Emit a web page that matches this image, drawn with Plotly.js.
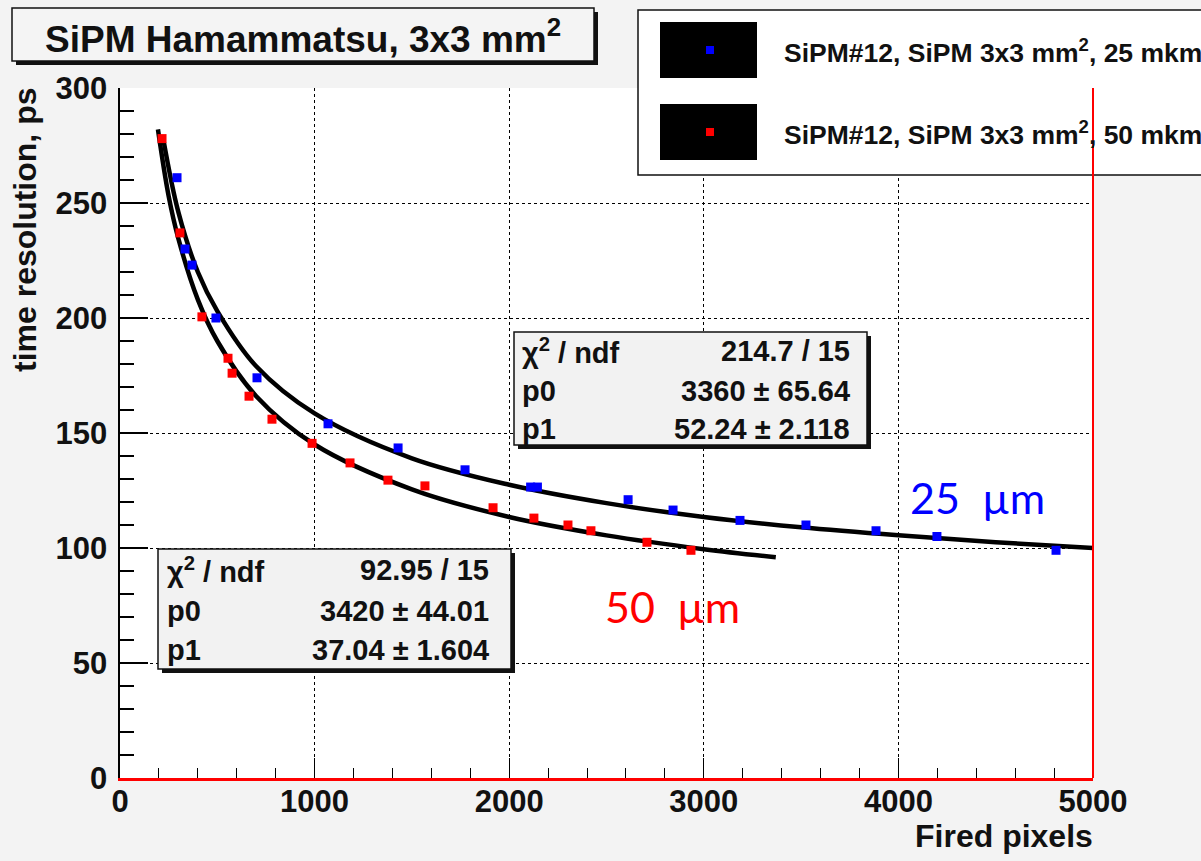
<!DOCTYPE html>
<html>
<head>
<meta charset="utf-8">
<script src="https://cdn.plot.ly/plotly-3.0.1.min.js"></script>
<style>html,body{margin:0;padding:0;background:#f3f3f3;}#chart{width:1201px;height:861px;}</style>
</head>
<body>
<div id="chart"></div>
<script>
// ---- data ----
const blueX = [293, 334, 370, 493, 704, 1069, 1429, 1773, 2110, 2145, 2611, 2842, 3186, 3525, 3885, 4198, 4810];
const blueY = [261, 230, 223, 200, 174, 154, 143.5, 134, 126.5, 126.5, 121, 116.5, 112, 110, 107.5, 105, 99];
const redX = [216, 308, 421, 555, 576, 663, 781, 987, 1182, 1377, 1567, 1917, 2127, 2302, 2420, 2708, 2934];
const redY = [278, 237, 200.5, 182.5, 176, 166, 156, 145.5, 137, 129.5, 127, 117.5, 113, 110, 107.5, 102.5, 99];
const fit25X = [222, 300, 400, 500, 700, 1000, 1500, 2000, 2500, 3000, 3500, 4000, 4500, 5000];
const fit25Y = [278, 246, 220, 203, 179, 158.5, 139, 127.5, 119.5, 113.5, 109, 105.5, 102.5, 100];
const fit50X = [195, 250, 300, 400, 500, 700, 1000, 1500, 2000, 2500, 3000, 3370];
const fit50Y = [282, 253, 234.5, 208, 190, 166, 145, 125.5, 113.5, 105.5, 99.5, 96];
const legendLabels = ["SiPM#12, SiPM 3x3 mm<sup>2</sup>, 25 mkm", "SiPM#12, SiPM 3x3 mm<sup>2</sup>, 50 mkm"];
const stats25 = [["χ<sup>2</sup> / ndf", "214.7 / 15"], ["p0", "3360 ± 65.64"], ["p1", "52.24 ± 2.118"]];
const stats50 = [["χ<sup>2</sup> / ndf", "92.95 / 15"], ["p0", "3420 ± 44.01"], ["p1", "37.04 ± 1.604"]];
const chartTitle = "SiPM Hamammatsu, 3x3 mm<sup>2</sup>";
const xTitle = "Fired pixels";
const yTitle = "time resolution, ps";

// ---- layout geometry (pixels -> paper) ----
const L = 120, R = 1093, T = 88, B = 778;
const px = x => (x - L) / (R - L);
const py = y => (B - y) / (B - T);
const FONT = "Liberation Sans, Arial, sans-serif";

const shapes = [];
const annotations = [];
function box(x0, y0, x1, y1, fill, shadow) {
  if (shadow) shapes.push({type: "rect", xref: "paper", yref: "paper", x0: px(x0 + 4), x1: px(x1 + 4), y0: py(y0 + 4), y1: py(y1 + 4), fillcolor: "#111", line: {width: 0}, layer: "above"});
  shapes.push({type: "rect", xref: "paper", yref: "paper", x0: px(x0), x1: px(x1), y0: py(y0), y1: py(y1), fillcolor: fill, line: {color: "#111", width: 1.5}, layer: "above"});
}
function text(x, y, t, opts) {
  annotations.push(Object.assign({xref: "paper", yref: "paper", x: px(x), y: py(y), text: t, showarrow: false,
    xanchor: "left", yanchor: "middle", font: {family: FONT, size: 29, color: "#111", weight: "bold"}}, opts || {}));
}

// title box
box(12, 8, 594, 61, "#f4f4f4", true);
text(303, 36, chartTitle, {xanchor: "center", font: {family: FONT, size: 37, color: "#111", weight: "bold"}});

// legend box
box(638, 10, 1215, 175, "#ffffff", false);
const legColors = ["#0000ff", "#ff0000"];
[[22, 78], [104, 160]].forEach((r, i) => {
  shapes.push({type: "rect", xref: "paper", yref: "paper", x0: px(660), x1: px(757), y0: py(r[0]), y1: py(r[1]), fillcolor: "#000", line: {width: 0}, layer: "above"});
  const cy = (r[0] + r[1]) / 2;
  shapes.push({type: "rect", xref: "paper", yref: "paper", x0: px(706), x1: px(714), y0: py(cy - 4), y1: py(cy + 4), fillcolor: legColors[i], line: {width: 0}, layer: "above"});
  text(782, cy + 1, legendLabels[i], {font: {family: FONT, size: 26.5, color: "#111", weight: "bold"}});
});

// stat boxes
function statBox(x0, y0, x1, y1, rows, rowY, lx, rx) {
  box(x0, y0, x1, y1, "#f2f2f2", true);
  rows.forEach((r, i) => {
    text(lx, rowY[i], r[0]);
    text(rx, rowY[i], r[1], {xanchor: "right"});
  });
}
statBox(514, 332, 867, 445, stats25, [351, 391, 429], 520, 852);
statBox(158, 549, 511, 669, stats50, [570, 611, 650], 165, 491);

// curve labels
text(908, 497, "25\u00a0\u00a0µm", {font: {family: "Lato, Noto Sans, sans-serif", size: 43, color: "#0000ff"}});
text(603, 606, "50\u00a0\u00a0µm", {font: {family: "Lato, Noto Sans, sans-serif", size: 43, color: "#ff0000"}});

// axis titles
text(25, T - 2, yTitle, {textangle: -90, xanchor: "center", yanchor: "top", font: {family: FONT, size: 32, color: "#111", weight: "bold"}});
text(R + 2, 836, xTitle, {xanchor: "right", font: {family: FONT, size: 32, color: "#111", weight: "bold"}});

// red right edge of the frame
shapes.push({type: "line", xref: "paper", yref: "paper", x0: 1, x1: 1, y0: 0, y1: 1, line: {color: "#ff0000", width: 2}, layer: "above"});

const traces = [
  {x: fit25X, y: fit25Y, mode: "lines", line: {color: "#000", width: 4.5, shape: "spline"}, hoverinfo: "skip"},
  {x: fit50X, y: fit50Y, mode: "lines", line: {color: "#000", width: 4.5, shape: "spline"}, hoverinfo: "skip"},
  {x: blueX, y: blueY, mode: "markers", marker: {symbol: "square", size: 9, color: "#0000ff"}},
  {x: redX, y: redY, mode: "markers", marker: {symbol: "square", size: 9, color: "#ff0000"}}
];

const axisCommon = {
  showgrid: true, gridcolor: "#000", griddash: "dot", gridwidth: 1,
  zeroline: false, showline: true, ticks: "inside", tickcolor: "#000",
  tickfont: {family: FONT, size: 31, color: "#111", weight: "bold"}
};
const layout = {
  width: 1201, height: 861,
  margin: {l: L, r: 1201 - R, t: T, b: 861 - B, pad: 0},
  paper_bgcolor: "#f3f3f3", plot_bgcolor: "#ffffff",
  showlegend: false,
  xaxis: Object.assign({}, axisCommon, {range: [0, 5000], dtick: 1000, tick0: 0, ticklen: 20, tickwidth: 1,
    linecolor: "#ff0000", linewidth: 3, minor: {dtick: 200, ticklen: 10, ticks: "inside", tickcolor: "#000", showgrid: false}, ticklabelstandoff: -6}),
  yaxis: Object.assign({}, axisCommon, {range: [0, 300], dtick: 50, tick0: 0, ticklen: 28, tickwidth: 1.5,
    linecolor: "#000", linewidth: 2.5, minor: {dtick: 10, ticklen: 14, ticks: "inside", tickcolor: "#000", showgrid: false}, ticklabelstandoff: 4}),
  shapes: shapes,
  annotations: annotations
};
Plotly.newPlot("chart", traces, layout, {staticPlot: true});
</script>
</body>
</html>
